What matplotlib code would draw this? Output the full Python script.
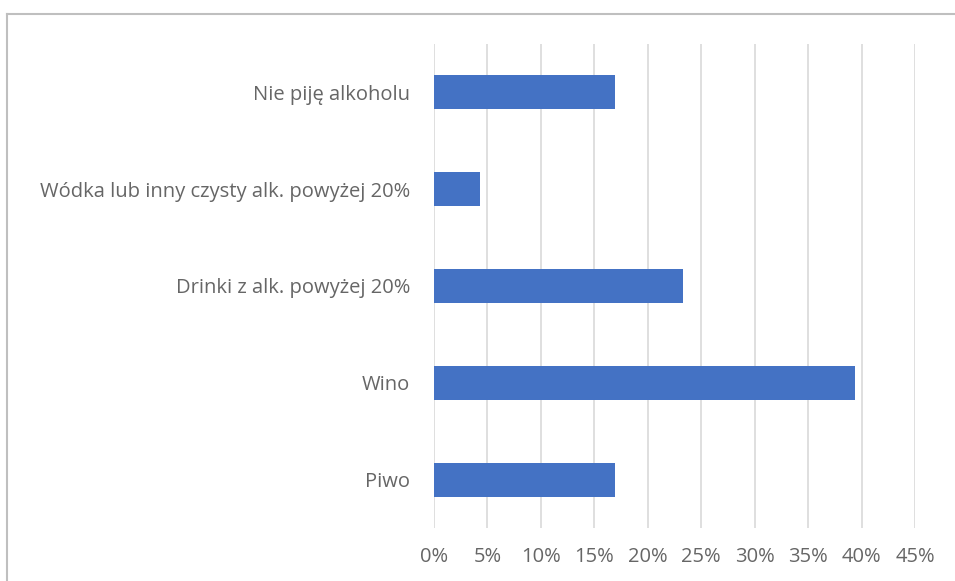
import matplotlib
matplotlib.use("Agg")
import matplotlib.pyplot as plt
from matplotlib.lines import Line2D
from matplotlib.ticker import FuncFormatter

categories = ["Nie piję alkoholu", "Wódka lub inny czysty alk. powyżej 20%",
              "Drinki z alk. powyżej 20%", "Wino", "Piwo"]
values = [16.9, 4.3, 23.3, 39.4, 16.9]
xticks = [0, 5, 10, 15, 20, 25, 30, 35, 40, 45]

plt.rcParams['font.family'] = ['Open Sans', 'DejaVu Sans']

fig = plt.figure(figsize=(9.55, 5.81), dpi=100)
ax = fig.add_axes([434/955, 1-528/581, (915-434)/955, (528-44)/581])

ypos = list(range(len(categories)))
ax.barh(ypos, values, height=0.35, color="#4472C4", zorder=3)
ax.set_ylim(len(categories)-0.5, -0.5)
ax.set_yticks(ypos)
ax.set_yticklabels(categories)
ax.set_xlim(0, 45)
ax.set_xticks(xticks)
ax.xaxis.set_major_formatter(FuncFormatter(lambda v, p: f"{v:.0f}%"))
ax.grid(axis="x", color="#d9d9d9", linewidth=1.2, zorder=0)
for s in ax.spines.values():
    s.set_visible(False)
ax.tick_params(axis="both", length=0, labelsize=14.5, colors="#666666")
ax.tick_params(axis="y", pad=17)
ax.tick_params(axis="x", pad=14)

# outer chart frame (partially visible)
fig.add_artist(Line2D([7/955, 1.0], [1-14/581, 1-14/581], transform=fig.transFigure, color="#bfbfbf", linewidth=1.5))
fig.add_artist(Line2D([7/955, 7/955], [0.0, 1-14/581], transform=fig.transFigure, color="#bfbfbf", linewidth=1.5))

fig.savefig("out.png", dpi=100, facecolor="white")
